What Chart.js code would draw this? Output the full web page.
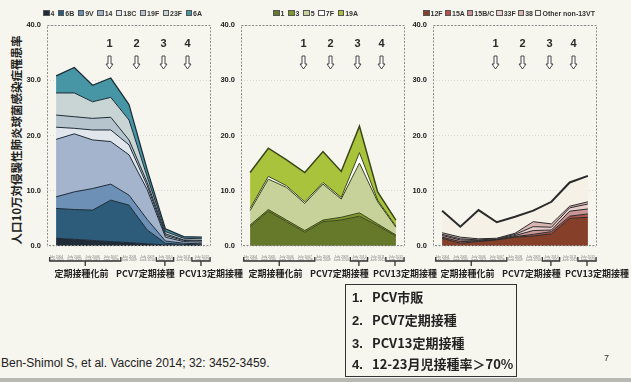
<!DOCTYPE html>
<html><head><meta charset="utf-8">
<script src="https://cdn.jsdelivr.net/npm/chart.js@4"></script>
<style>
html,body{margin:0;padding:0}
body{width:631px;height:382px;background:#f6f5ee;position:relative;overflow:hidden;font-family:"Liberation Sans",Arial,sans-serif;color:#222}
canvas{position:absolute;top:0}
.legend{position:absolute;top:9px;height:8px;display:flex;justify-content:space-between;align-items:center;font:bold 7px "Liberation Sans",Arial,sans-serif;color:#333;white-space:nowrap}
.legend .it{display:flex;align-items:center}
.legend .sw{display:inline-block;width:4.5px;height:4.5px;border:0.8px solid #555;margin-right:1px}
#ytitle{position:absolute;left:-92px;top:133px;width:214px;height:14px;line-height:14px;text-align:center;transform:rotate(-90deg);font:bold 11.5px "Noto Sans CJK JP",sans-serif;color:#222;white-space:nowrap}
#box{position:absolute;left:345px;top:284px;width:170px;height:91px;border:1.5px solid #333}
.bl{position:absolute;left:6px;font:bold 13px "Noto Sans CJK JP","Liberation Sans",sans-serif;color:#222;white-space:nowrap;line-height:16px}
.bl b{display:inline-block;width:20px;font-family:"Liberation Sans",Arial,sans-serif}
#cite{position:absolute;left:1px;top:356px;font:12px "Liberation Sans",Arial,sans-serif;color:#222;white-space:nowrap}
#page{position:absolute;left:604px;top:353px;font:9px "Liberation Sans",Arial,sans-serif;color:#333}
#edge{position:absolute;left:0;top:378px;width:631px;height:4px;background:#b9b9b4}
</style>
</head><body>
<div id="ytitle">人口10万対侵襲性肺炎球菌感染症罹患率</div>
<canvas id="c1" width="245" height="290" style="left:0px"></canvas>
<canvas id="c2" width="235" height="290" style="left:205px"></canvas>
<canvas id="c3" width="231" height="290" style="left:400px"></canvas>
<div id="lg1" class="legend" style="left:43px;width:159px"></div>
<div id="lg2" class="legend" style="left:273px;width:85px"></div>
<div id="lg3" class="legend" style="left:423px;width:172px"></div>
<div id="box">
  <div class="bl" style="top:4px"><b>1.</b>PCV市販</div>
  <div class="bl" style="top:27px"><b>2.</b>PCV7定期接種</div>
  <div class="bl" style="top:50px"><b>3.</b>PCV13定期接種</div>
  <div class="bl" style="top:71px"><b>4.</b>12-23月児接種率＞70%</div>
</div>
<div id="cite">Ben-Shimol S, et al. Vaccine 2014; 32: 3452-3459.</div>
<div id="page">7</div>
<div id="edge"></div>
<script>
// ---------- data ----------
const tickLabels = [
  ["July 2004","June 2005"],["July 2005","June 2006"],["July 2006","June 2007"],
  ["July 2007","June 2008"],["July 2008","June 2009"],["July 2009","June 2010"],
  ["July 2010","June 2011"],["July 2011","June 2012"],["July 2012","June 2013"]
];
const yTicks = [0, 10, 20, 30, 40];
const arrowLabels = ["1", "2", "3", "4"];
const arrowAt = [2.9, 4.4, 5.85, 7.2];
const periodLabels = ["定期接種化前", "PCV7定期接種", "PCV13定期接種"];

// PCV7 serotypes + 6A (stack bottom to top)
const pcv7Names = ["4", "6B", "9V", "14", "18C", "19F", "23F", "6A"];
const st4   = [1.4, 1.2, 1.0, 0.8, 0.6, 0.4, 0.2, 0.1, 0.1];
const st6B  = [5.4, 5.4, 5.5, 7.5, 6.8, 2.5, 0.3, 0.2, 0.1];
const st9V  = [2.1, 3.2, 3.9, 2.9, 1.8, 1.9, 0.4, 0.2, 0.2];
const st14  = [10.4, 10.5, 8.8, 7.7, 7.3, 5.4, 0.7, 0.3, 0.3];
const st18C = [2.2, 1.0, 1.8, 2.1, 1.8, 0.7, 0.3, 0.2, 0.2];
const st19F = [2.2, 2.1, 2.1, 2.3, 0.9, 0.6, 0.3, 0.1, 0.1];
const st23F = [4.0, 4.3, 3.0, 3.6, 3.6, 1.0, 0.4, 0.3, 0.3];
const st6A  = [3.1, 4.6, 3.0, 3.5, 2.8, 1.3, 0.5, 0.3, 0.3];

// PCV13 additional serotypes
const pcv13Names = ["1", "3", "5", "7F", "19A"];
const st1   = [3.5, 6.3, 4.4, 2.5, 4.4, 4.7, 5.4, 3.7, 1.8];
const st3   = [0.3, 0.3, 0.3, 0.3, 0.3, 0.5, 0.6, 0.3, 0.2];
const st5   = [2.6, 5.5, 5.9, 4.9, 6.5, 3.3, 9.0, 4.0, 1.4];
const st7F  = [0.4, 0.5, 0.3, 0.3, 0.3, 0.3, 1.9, 0.3, 0.2];
const st19A = [6.5, 5.1, 4.7, 5.3, 5.6, 4.7, 4.8, 1.5, 1.1];

// non-PCV13 serotypes
const nvtNames = ["12F", "15A", "15B/C", "33F", "38", "Other non-13VT"];
const st12F   = [1.4, 0.5, 0.8, 1.1, 1.6, 1.8, 2.2, 5.0, 5.2];
const st15A   = [0.2, 0.3, 0.1, 0.0, 0.1, 0.3, 0.4, 0.4, 0.6];
const st15BC  = [0.3, 0.3, 0.1, 0.1, 0.2, 0.7, 0.3, 0.9, 0.9];
const st33F   = [0.2, 0.2, 0.1, 0.1, 0.2, 0.7, 0.5, 0.6, 0.9];
const st38    = [0.3, 0.3, 0.2, 0.1, 0.2, 0.9, 0.6, 0.3, 0.4];
const stOther = [4.0, 1.9, 5.2, 2.9, 3.0, 2.0, 4.0, 4.3, 4.7];

// ---------- styles ----------
const col1 = ["#1f2b37", "#2d5b7a", "#6c90b6", "#a5b4cd", "#e1e6ec", "#b5c4cd", "#c9d5d5", "#4696a6"];
const col2 = ["#66792b", "#80992f", "#c7d29b", "#ffffff", "#a9c43c"];
const col3 = ["#86402a", "#b3534a", "#c99494", "#e8cfcd", "#d9b6b2", "#f5f1e7"];

function buildLegend(id, names, colors) {
  const el = document.getElementById(id);
  names.forEach((n, i) => {
    const it = document.createElement('span'); it.className = 'it';
    const sw = document.createElement('span'); sw.className = 'sw'; sw.style.background = colors[i];
    it.appendChild(sw); it.appendChild(document.createTextNode(n));
    el.appendChild(it);
  });
}
buildLegend('lg1', pcv7Names, col1);
buildLegend('lg2', pcv13Names, col2);
buildLegend('lg3', nvtNames, col3);

const decor = {
  id: 'decor',
  afterDraw(chart) {
    const {ctx, chartArea: a, scales: {x}} = chart;
    ctx.save();
    // frame
    ctx.strokeStyle = '#8c8c8c'; ctx.lineWidth = 1; ctx.setLineDash([2, 1.5]);
    ctx.strokeRect(a.left + 0.5, a.top + 0.5, a.width - 1, a.height - 1);
    ctx.setLineDash([]);
    // arrows
    ctx.textAlign = 'center'; ctx.textBaseline = 'middle';
    arrowAt.forEach((p, i) => {
      const px = Math.round(x.getPixelForValue(p)) + 0.5;
      ctx.fillStyle = '#2a2a2a'; ctx.font = 'bold 11px "Liberation Sans", Arial, sans-serif';
      ctx.fillText(arrowLabels[i], px, a.top + 19);
      const t = a.top + 31, hb = a.top + 39, b = a.top + 44;
      ctx.beginPath();
      ctx.moveTo(px - 1.5, t); ctx.lineTo(px + 1.5, t); ctx.lineTo(px + 1.5, hb);
      ctx.lineTo(px + 3.5, hb); ctx.lineTo(px, b); ctx.lineTo(px - 3.5, hb);
      ctx.lineTo(px - 1.5, hb); ctx.closePath();
      ctx.fillStyle = '#ffffff'; ctx.fill();
      ctx.strokeStyle = '#333'; ctx.lineWidth = 0.9; ctx.stroke();
    });
    // period brackets
    const br = [[-0.35, 3.55, 1.6], [5.5, 6.45, 5.97], [7.45, 8.45, 7.95]];
    const lab = [1.4, 4.9, 8.5];
    const yb = a.bottom + 15;
    ctx.strokeStyle = '#333'; ctx.lineWidth = 1.3;
    br.forEach(([s, e, c]) => {
      const x1 = x.getPixelForValue(s), x2 = x.getPixelForValue(e), xc = x.getPixelForValue(c);
      ctx.beginPath();
      ctx.moveTo(x1, yb - 4); ctx.lineTo(x1, yb); ctx.lineTo(x2, yb); ctx.lineTo(x2, yb - 4);
      ctx.moveTo(xc, yb); ctx.lineTo(xc, yb + 5);
      ctx.stroke();
    });
    ctx.fillStyle = '#222'; ctx.font = 'bold 9px "Noto Sans CJK JP", sans-serif';
    periodLabels.forEach((t, i) => ctx.fillText(t, x.getPixelForValue(lab[i]), a.bottom + 28));
    ctx.restore();
  }
};

function makeChart(id, names, series, colors, yw, rightPad, borderCol, topWidth) {
  const datasets = series.map((d, i) => ({
    label: names[i], data: d,
    backgroundColor: colors[i], borderColor: borderCol,
    borderWidth: i === series.length - 1 ? topWidth : 1,
    fill: i === 0 ? 'origin' : '-1', pointRadius: 0, tension: 0
  }));
  return new Chart(document.getElementById(id), {
    type: 'line',
    data: {labels: tickLabels, datasets},
    options: {
      animation: false, responsive: false, devicePixelRatio: 1,
      layout: {padding: {left: 0, right: rightPad, top: 25, bottom: 0}},
      plugins: {legend: {display: false}, tooltip: {enabled: false}},
      scales: {
        x: {
          type: 'category', offset: true,
          grid: {display: false}, border: {display: false},
          ticks: {autoSkip: false, maxRotation: 0, minRotation: 0, padding: 1, color: '#7a7a7a',
                  font: {size: 3.3, family: 'Liberation Sans', lineHeight: 1.1}},
          afterFit(s) { s.height = 44; }
        },
        y: {
          stacked: true, min: 0, max: 40,
          afterBuildTicks(s) { s.ticks = yTicks.map(v => ({value: v})); },
          ticks: {padding: 6, color: '#222', callback: v => Number(v).toFixed(1),
                  font: {size: 7.5, weight: 'bold', family: 'Liberation Sans'}},
          grid: {color: 'rgba(0,0,0,0.12)', drawTicks: false, lineWidth: 1},
          border: {display: false, dash: [1, 2]},
          afterFit(s) { s.width = yw; }
        }
      }
    },
    plugins: [decor]
  });
}

makeChart('c1', pcv7Names, [st4, st6B, st9V, st14, st18C, st19F, st23F, st6A], col1, 47, 34, '#1d2a35', 1.2);
makeChart('c2', pcv13Names, [st1, st3, st5, st7F, st19A], col2, 36, 35, '#3a4619', 1.5);
makeChart('c3', nvtNames, [st12F, st15A, st15BC, st33F, st38, stOther], col3, 33, 34, '#2a2a2a', 2);
</script>
</body></html>
